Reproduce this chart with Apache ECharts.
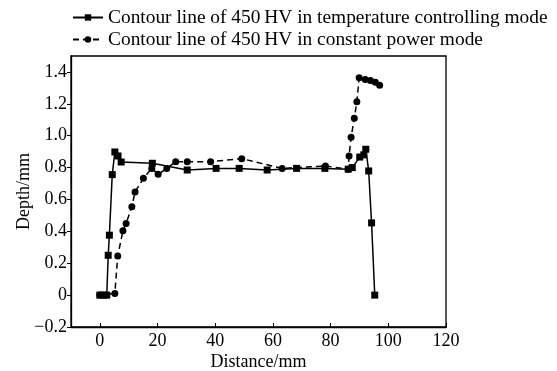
<!DOCTYPE html>
<html><head><meta charset="utf-8">
<script src="https://cdn.jsdelivr.net/npm/echarts@6/dist/echarts.min.js"></script>
<style>html,body{margin:0;padding:0;background:#fff}#c{width:557px;height:371px}</style>
</head><body><div id="c"></div>
<script>
var seriesNames = ['Contour line of 450\u2009HV in temperature controlling mode', 'Contour line of 450\u2009HV in constant power mode'];
var tempX = [0, 1.3, 2.4, 2.9, 3.3, 4.3, 5.2, 6.3, 7.4, 18.2, 30.3, 40.3, 48.3, 58.0, 68.2, 78.0, 86.1, 87.5, 90.1, 91.5, 92.2, 93.2, 94.2, 95.3];
var tempY = [0, 0, 0, 0.25, 0.376, 0.756, 0.898, 0.873, 0.835, 0.827, 0.785, 0.795, 0.795, 0.785, 0.795, 0.795, 0.79, 0.80, 0.866, 0.88, 0.915, 0.779, 0.453, 0];
var powerX = [0, 5.2, 6.2, 8.0, 9.1, 11.1, 12.2, 15.1, 18.0, 20.2, 23.2, 26.3, 30.3, 38.4, 49.2, 63.2, 78.2, 86.1, 86.4, 87.1, 88.2, 89.1, 89.9, 92.0, 93.8, 95.5, 97.0];
var powerY = [0, 0.01, 0.246, 0.403, 0.449, 0.555, 0.647, 0.733, 0.795, 0.758, 0.795, 0.837, 0.837, 0.837, 0.856, 0.795, 0.81, 0.79, 0.873, 0.99, 1.109, 1.213, 1.364, 1.353, 1.347, 1.336, 1.316];
var xTicks = [0, 20, 40, 60, 80, 100, 120];
var yTicks = [-0.2, 0, 0.2, 0.4, 0.6, 0.8, 1.0, 1.2, 1.4];

function pairs(xs, ys) { return xs.map(function (x, i) { return [x, ys[i]]; }); }
var font = 'Liberation Serif';
var chart = echarts.init(document.getElementById('c'), null, {renderer: 'canvas'});
chart.setOption({
  animation: false,
  backgroundColor: '#fff',
  legend: {
    orient: 'vertical', left: 67, top: 3, itemGap: 3, itemWidth: 30, itemHeight: 8,
    textStyle: {fontFamily: font, fontSize: 19.4, color: '#000'},
    data: [seriesNames[0], seriesNames[1]]
  },
  grid: {left: 71, right: 111, top: 56, bottom: 44, show: true, borderColor: '#000', borderWidth: 1.3,
    containLabel: false, outerBoundsMode: 'none'},
  xAxis: {
    type: 'value', min: -10, max: 120,
    name: 'Distance/mm', nameLocation: 'middle', nameGap: 26, nameMoveOverlap: false,
    nameTextStyle: {fontFamily: font, fontSize: 18, color: '#000'},
    axisLine: {onZero: false, lineStyle: {color: '#000', width: 1.3}},
    axisTick: {inside: true, length: 4, customValues: xTicks, lineStyle: {color: '#000'}},
    axisLabel: {customValues: xTicks, fontFamily: font, fontSize: 18, color: '#000', margin: 5},
    splitLine: {show: false}
  },
  yAxis: {
    type: 'value', min: -0.2, max: 1.5,
    name: 'Depth/mm', nameLocation: 'middle', nameGap: 38, nameMoveOverlap: false,
    nameTextStyle: {fontFamily: font, fontSize: 18, color: '#000'},
    axisLine: {onZero: false, lineStyle: {color: '#000', width: 1.3}},
    axisTick: {inside: false, length: 4, customValues: yTicks, lineStyle: {color: '#000'}},
    axisLabel: {customValues: yTicks, fontFamily: font, fontSize: 18, color: '#000', margin: 4,
      formatter: function (v) { if (Math.abs(v) < 1e-9) return '0'; return (v < 0 ? '\u2212' : '') + Math.abs(v).toFixed(1); }},
    splitLine: {show: false}
  },
  series: [
    {name: seriesNames[0], type: 'line', data: pairs(tempX, tempY), symbol: 'rect', symbolSize: 7,
      itemStyle: {color: '#000'}, lineStyle: {color: '#000', width: 1.5}, z: 3},
    {name: seriesNames[1], type: 'line', data: pairs(powerX, powerY), symbol: 'circle', symbolSize: 7,
      itemStyle: {color: '#000'}, lineStyle: {color: '#000', width: 1.5, type: [6, 4]}, z: 2}
  ]
});
</script></body></html>
